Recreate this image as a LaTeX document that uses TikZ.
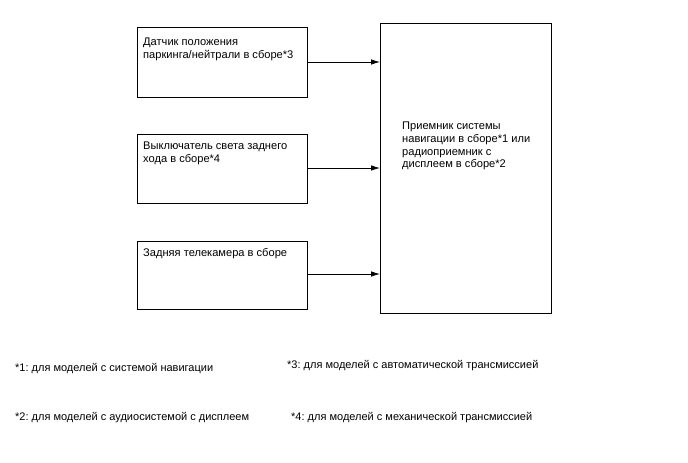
\documentclass[tikz,border=0pt]{standalone}
\usepackage{fontspec}
\setmainfont{Liberation Sans}
\usetikzlibrary{arrows.meta}
\begin{document}
\frenchspacing
\begin{tikzpicture}[x=1pt,y=-1pt,
  box/.style={draw=black,line width=1pt},
  lbl/.style={anchor=north west,inner sep=0pt,align=left,font=\fontsize{11.1}{12.6}\selectfont},
  foot/.style={anchor=west,inner sep=0pt,font=\fontsize{11}{12.6}\selectfont},
  conn/.style={draw=black,line width=0.8pt,-{Latex[length=9pt,width=5.5pt]}}]
\useasboundingbox (0,0) rectangle (688,463);
\node[box,minimum width=170pt,minimum height=70pt,anchor=north west,inner sep=0pt] (b1) at (137,27) {};
\node[box,minimum width=170pt,minimum height=69pt,anchor=north west,inner sep=0pt] (b2) at (137,134) {};
\node[box,minimum width=170pt,minimum height=68pt,anchor=north west,inner sep=0pt] (b3) at (137,241) {};
\node[box,minimum width=171pt,minimum height=290pt,anchor=north west,inner sep=0pt] (rx) at (380,23) {};
\node[lbl] (t1) at (143,38) {Датчик положения\\паркинга/нейтрали в сборе*3};
\node[lbl] (t2) at (143,142) {Выключатель света заднего\\хода в сборе*4};
\node[lbl] (t3) at (143,248) {Задняя телекамера в сборе};
\node[lbl] (t4) at (402,122) {Приемник системы\\навигации в сборе*1 или\\радиоприемник с\\дисплеем в сборе*2};
\coordinate (a1) at (380,62);
\coordinate (a2) at (380,168);
\coordinate (a3) at (380,274);
\draw[conn] (b1.east |- a1) -- (a1);
\draw[conn] (b2.east |- a2) -- (a2);
\draw[conn] (b3.east |- a3) -- (a3);
\node[foot] (f1) at (15,369) {*1: для моделей с системой навигации};
\node[foot] (f2) at (15,418) {*2: для моделей с аудиосистемой с дисплеем};
\node[foot] (f3) at (287,366) {*3: для моделей с автоматической трансмиссией};
\node[foot] (f4) at (291,418) {*4: для моделей с механической трансмиссией};
\end{tikzpicture}
\end{document}
